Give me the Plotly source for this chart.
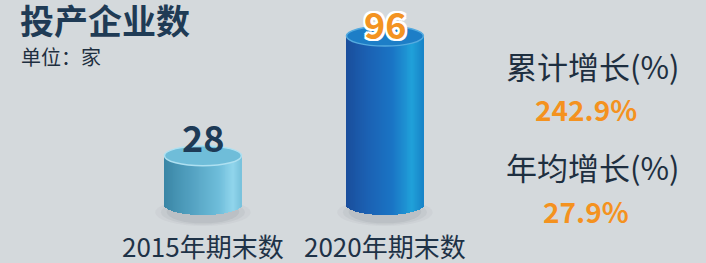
import numpy as np
import plotly.graph_objects as go

# ---- data ----
categories = ["2015年期末数", "2020年期末数"]
values = [28, 96]
title = "投产企业数"
unit = "单位：家"
stat_labels = ["累计增长(%)", "年均增长(%)"]
stat_values = ["242.9%", "27.9%"]

# ---- style ----
W, H = 706, 263
FONT = "Noto Sans CJK SC"
bg = "#d4d9dc"
px_per_unit = 1.76
zero_px = 205
y_lo = -(H - zero_px) / px_per_unit
y_hi = zero_px / px_per_unit
x_lo, x_hi = -1.115, -1.115 + W / 182.0
bar_w = 77 / 182.0
h = 10 / px_per_unit  # ellipse half-height in data units
N = 80

body_stops = [
    [(0, "#3a86a5"), (0.3, "#4f9dbd"), (0.7, "#6dbcd9"), (0.9, "#90d5ec"), (1.0, "#79c2dc")],
    [(0, "#1a4e9c"), (0.3, "#1b62b4"), (0.6, "#1a74c4"), (0.86, "#20a1d9"), (1.0, "#1884c8")],
]
top_fill = ["#6fbdd9", "#1d7ec7"]
top_rim = ["#aee0f1", "#55abdf"]
label_colors = ["#1d3a56", "#f39322"]
label_shift = [20, 13]


def hex2rgb(c):
    c = c.lstrip("#")
    return [int(c[i:i + 2], 16) for i in (0, 2, 4)]


def interp(stops, t):
    for (t0, c0), (t1, c1) in zip(stops[:-1], stops[1:]):
        if t0 <= t <= t1:
            f = (t - t0) / (t1 - t0) if t1 > t0 else 0
            a, b = hex2rgb(c0), hex2rgb(c1)
            return "rgb(%d,%d,%d)" % tuple(round(a[k] + (b[k] - a[k]) * f) for k in range(3))
    return stops[-1][1]


fig = go.Figure()
shapes = []
annotations = []

for i, (cat, v) in enumerate(zip(categories, values)):
    ts = (np.arange(N) + 0.5) / N  # 0..1 across
    u = ts * 2 - 1
    xs = i + u * bar_w / 2
    bases = -h * np.sqrt(1 - u ** 2)
    lens = v - bases
    cols = [interp(body_stops[i], t) for t in ts]
    fig.add_trace(go.Bar(
        x=xs, y=lens, base=bases, width=bar_w / N * 1.15,
        marker=dict(color=cols, line=dict(width=0)),
        hoverinfo="skip", showlegend=False,
    ))
    # soft ground shadow
    for k, a in enumerate([0.05, 0.07, 0.09]):
        s = 1.0 - k * 0.12
        shapes.append(dict(type="circle", xref="x", yref="y", layer="below",
                           x0=i - bar_w * 0.62 * s, x1=i + bar_w * 0.62 * s,
                           y0=-h * (1.0 + 1.1 * s), y1=h * 0.6 * s,
                           fillcolor="rgba(90,100,110,%.2f)" % a, line=dict(width=0)))
    # top ellipse
    shapes.append(dict(type="circle", xref="x", yref="y",
                       x0=i - bar_w / 2, x1=i + bar_w / 2, y0=v - h, y1=v + h,
                       fillcolor=top_fill[i], line=dict(color=top_rim[i], width=1.5)))
    # value label
    shadow = "none"
    if i == 1:
        shadow = ("-2px -2px 0 #fff, 2px -2px 0 #fff, -2px 2px 0 #fff, 2px 2px 0 #fff, "
                  "0 -2px 0 #fff, 0 2px 0 #fff, -2px 0 0 #fff, 2px 0 0 #fff")
    annotations.append(dict(x=i, y=v, xref="x", yref="y", text="<b>" + str(v) + "</b>", showarrow=False,
                            yanchor="middle", yshift=label_shift[i],
                            font=dict(family=FONT, size=36, color=label_colors[i], shadow=shadow)))
    # category label
    annotations.append(dict(x=i, y=1 - 245 / H, xref="x", yref="paper", text=cat,
                            showarrow=False, yanchor="middle",
                            font=dict(family=FONT, size=26, color="#1e3247")))

# title and unit
annotations.append(dict(x=18 / W, y=1 - 20 / H, xref="paper", yref="paper", text="<b>" + title + "</b>",
                        showarrow=False, xanchor="left", yanchor="middle",
                        font=dict(family=FONT, size=34, color="#1f3b55")))
annotations.append(dict(x=19 / W, y=1 - 57 / H, xref="paper", yref="paper", text=unit,
                        showarrow=False, xanchor="left", yanchor="middle",
                        font=dict(family=FONT, size=20, color="#1e2f40")))

# right side stats
label_y = [66, 166]
value_y = [109, 211]
for lab, val, ly, vy in zip(stat_labels, stat_values, label_y, value_y):
    annotations.append(dict(x=593 / W, y=1 - ly / H, xref="paper", yref="paper", text=lab,
                            showarrow=False, xanchor="center", yanchor="middle",
                            font=dict(family=FONT, size=31, color="#1e2f40")))
    annotations.append(dict(x=586 / W, y=1 - vy / H, xref="paper", yref="paper", text="<b>" + val + "</b>",
                            showarrow=False, xanchor="center", yanchor="middle",
                            font=dict(family=FONT, size=28, color="#f4921f")))

fig.update_layout(
    width=W, height=H,
    margin=dict(l=0, r=0, t=0, b=0),
    paper_bgcolor=bg, plot_bgcolor=bg,
    barmode="overlay", bargap=0,
    xaxis=dict(range=[x_lo, x_hi], visible=False, fixedrange=True),
    yaxis=dict(range=[y_lo, y_hi], visible=False, fixedrange=True),
    shapes=shapes, annotations=annotations,
    showlegend=False,
)

fig.write_html("out.html", config={"displayModeBar": False},
               post_script="document.body.style.margin='0';document.body.style.background='%s';" % bg)
